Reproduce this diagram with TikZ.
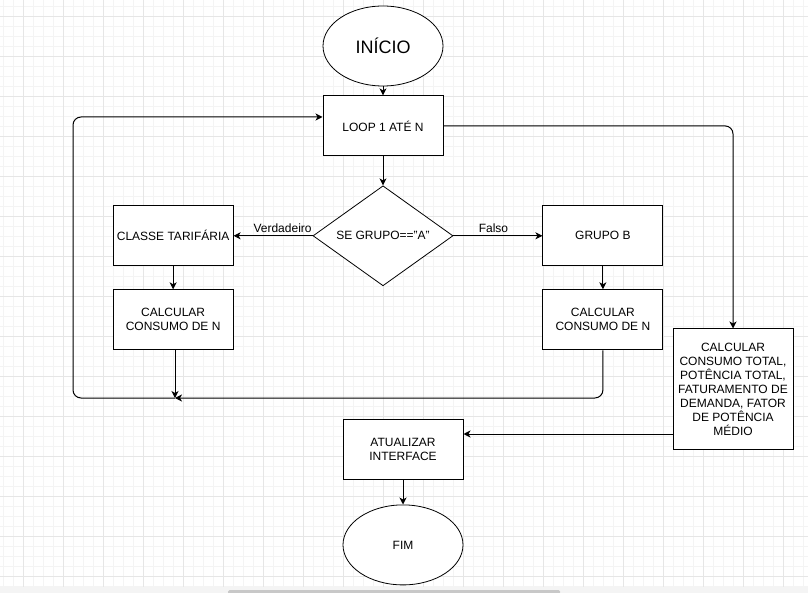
\documentclass[tikz,border=0pt]{standalone}
\usepackage{fontspec}
\setmainfont{Liberation Sans}
\usepackage{xcolor}
\usepackage{tikz}
\usetikzlibrary{arrows.meta,positioning,shapes.geometric,backgrounds}
\definecolor{gridmajor}{HTML}{E6E6E6}
\definecolor{gridminor}{HTML}{F4F4F4}
\definecolor{scrollbar}{HTML}{C8C8C8}
\tikzset{
  procbox/.style={
    rectangle, draw=black, fill=white, line width=1pt,
    minimum width=120pt, minimum height=60pt,
    font=\fontsize{12}{14}\selectfont, align=center,
    inner sep=2pt
  },
  endbox/.style={
    ellipse, draw=black, fill=white, line width=0.8pt,
    minimum width=120pt, minimum height=80pt,
    font=\fontsize{12}{14}\selectfont, inner sep=0pt
  },
  decisionbox/.style={
    diamond, aspect=1.4, draw=black, fill=white, line width=0.8pt,
    minimum width=140pt, minimum height=100pt,
    font=\fontsize{12}{14}\selectfont, inner sep=0pt
  },
  flowarrow/.style={
    -{Stealth[length=7pt,width=7pt,inset=2pt]}, line width=1pt, color=#1
  },
  flowarrow/.default=black,
  flowlabel/.style={font=\fontsize{12}{14}\selectfont, inner sep=2pt, yshift=1pt},
}

\begin{document}
\begin{tikzpicture}[x=1pt,y=-1pt]
\useasboundingbox (0,0) rectangle (808,593);
% canvas grid
\foreach \gx in {3,13,...,803} \draw[gridminor, line width=0.6pt] (\gx,0) -- (\gx,593);
\foreach \gy in {6,16,...,586} \draw[gridminor, line width=0.6pt] (0,\gy) -- (808,\gy);
\foreach \gx in {23,63,...,803} \draw[gridmajor, line width=0.8pt] (\gx,0) -- (\gx,593);
\foreach \gy in {16,56,...,576} \draw[gridmajor, line width=0.8pt] (0,\gy) -- (808,\gy);
\fill[gridminor] (0,587) rectangle (808,593);
\fill[scrollbar, rounded corners=1.5pt] (228,590) rectangle (560,594);

\node[endbox, font=\fontsize{18}{20}\selectfont] (inicio) at (383,46) {INÍCIO};
\node[procbox, below=9pt of inicio] (loop) {LOOP 1 ATÉ N};
\node[decisionbox, below=29pt of loop] (se-grupo) {SE GRUPO=="A"};
\node[procbox, left=79pt of se-grupo] (classe) {CLASSE TARIFÁRIA};
\node[procbox, right=89pt of se-grupo] (grupo-b) {GRUPO B};
\node[procbox, below=23pt of classe] (calc-a) {CALCULAR\\CONSUMO DE N};
\node[procbox, below=23pt of grupo-b] (calc-b) {CALCULAR\\CONSUMO DE N};
\node[procbox, minimum height=120pt] (calc-total) at (733,389)
  {CALCULAR\\CONSUMO TOTAL,\\POTÊNCIA TOTAL,\\FATURAMENTO DE\\DEMANDA, FATOR\\DE POTÊNCIA\\MÉDIO};
\node[procbox] (atualizar) at (403,449) {ATUALIZAR\\INTERFACE};
\node[endbox, below=25pt of atualizar] (fim) {FIM};

\coordinate (junction) at (175,398);

\draw[flowarrow] (inicio) -- (loop);
\draw[flowarrow] (loop) -- (se-grupo);
\draw[flowarrow] (se-grupo.west) -- (classe.east)
  node[pos=0.38, above, flowlabel] {Verdadeiro};
\draw[flowarrow] (se-grupo.east) -- (grupo-b.west)
  node[pos=0.45, above, flowlabel] {Falso};
\draw[flowarrow] (classe) -- (calc-a);
\draw[flowarrow] (grupo-b) -- (calc-b);
\draw[flowarrow] (calc-a.south -| junction) -- (junction);
\draw[flowarrow, rounded corners=8pt] (calc-b.south) |- (junction);
\draw[flowarrow, rounded corners=8pt] (junction) -| (73,117) -- (loop.west |- 0,117);
\draw[flowarrow, rounded corners=8pt] (loop.east) -| (calc-total.north);
\draw[flowarrow] (calc-total.west |- 0,434) -- (atualizar.east |- 0,434);
\draw[flowarrow] (atualizar) -- (fim);
\end{tikzpicture}
\end{document}
